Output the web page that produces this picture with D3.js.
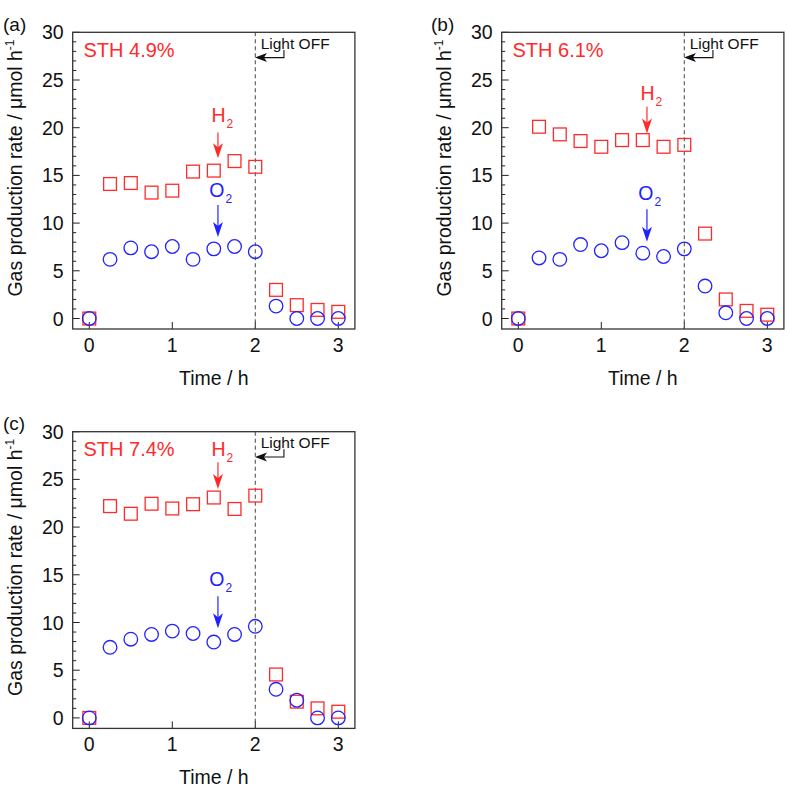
<!DOCTYPE html>
<html>
<head>
<meta charset="utf-8">
<script src="https://cdn.jsdelivr.net/npm/d3@7"></script>
<style>
  body { margin: 0; background: #fff; }
  text { font-family: Arial, "Liberation Sans", sans-serif; }
</style>
</head>
<body>
<script>
// sampling times (h)
var times = [0, 0.25, 0.5, 0.75, 1, 1.25, 1.5, 1.75, 2, 2.25, 2.5, 2.75, 3];
var xTicks = [0, 1, 2, 3];
var yTicks = [0, 5, 10, 15, 20, 25, 30];

// gas production rates, umol/h
var h2A = [0, 14.1, 14.2, 13.2, 13.4, 15.4, 15.5, 16.5, 15.9, 3.0, 1.4, 0.9, 0.7];
var o2A = [0, 6.2, 7.4, 7.0, 7.55, 6.2, 7.3, 7.55, 7.0, 1.3, 0, 0, 0];
var h2B = [0, 20.1, 19.3, 18.6, 18.0, 18.7, 18.7, 18.0, 18.2, 8.9, 2.0, 0.8, 0.4];
var o2B = [0, 6.35, 6.2, 7.75, 7.1, 7.95, 6.85, 6.5, 7.3, 3.4, 0.6, 0, 0];
var h2C = [0, 22.2, 21.4, 22.45, 21.95, 22.4, 23.1, 21.9, 23.3, 4.55, 1.7, 1.0, 0.65];
var o2C = [0, 7.4, 8.25, 8.75, 9.1, 8.85, 7.95, 8.75, 9.6, 3.0, 1.85, 0, 0];

var panelNames = ['(a)', '(b)', '(c)'];
var sthLabels = ['STH 4.9%', 'STH 6.1%', 'STH 7.4%'];

var RED = '#ff2a2a', BLUE = '#2222ff';

// layout of each panel (offsets) + where the H2/O2 pointers sit (data units)
var panels = [
  {name: panelNames[0], sth: sthLabels[0], h2: h2A, o2: o2A, dx: 0, dy: 0,
   hLab: 20.6, hArrow: [19.5, 16.8], oLab: 12.75, oArrow: [11.9, 8.55]},
  {name: panelNames[1], sth: sthLabels[1], h2: h2B, o2: o2B, dx: 429, dy: 0,
   hLab: 22.9, hArrow: [22.2, 19.4], oLab: 12.4, oArrow: [11.45, 8.05]},
  {name: panelNames[2], sth: sthLabels[2], h2: h2C, o2: o2C, dx: 0, dy: 399.4,
   hLab: 27.4, hArrow: [26.8, 24.0], oLab: 13.8, oArrow: [12.75, 9.4]}
];

var svg = d3.select('body').append('svg')
  .attr('width', 787)
  .attr('height', 787);

var x = d3.scaleLinear().domain([-0.2, 3.2]).range([72.7, 354.9]);
var y = d3.scaleLinear().domain([-1.1, 30]).range([329, 32.3]);

function drawPanel(p) {
  var g = svg.append('g').attr('transform', 'translate(' + p.dx + ',' + p.dy + ')');
  var x0 = x.range()[0], x1 = x.range()[1];
  var yb = y.range()[0], yt = y.range()[1];

  // y ticks, inside the frame
  var minor = d3.range(0, 31, 1);
  g.selectAll('.ytick').data(minor).enter().append('line')
    .attr('x1', x0).attr('x2', function(d) { return x0 + (d % 5 === 0 ? 7 : 3.5); })
    .attr('y1', function(d) { return y(d); }).attr('y2', function(d) { return y(d); })
    .attr('stroke', '#222').attr('stroke-width', 1);

  g.selectAll('.xtick').data(xTicks).enter().append('line')
    .attr('x1', function(d) { return x(d); }).attr('x2', function(d) { return x(d); })
    .attr('y1', yb).attr('y2', yb - 7)
    .attr('stroke', '#222').attr('stroke-width', 1);

  g.selectAll('.ylab').data(yTicks).enter().append('text')
    .attr('x', x0 - 9).attr('y', function(d) { return y(d); })
    .attr('dy', '0.36em')
    .attr('text-anchor', 'end')
    .attr('font-size', 19.5).attr('fill', '#111')
    .text(function(d) { return d; });

  g.selectAll('.xlab').data(xTicks).enter().append('text')
    .attr('x', function(d) { return x(d); }).attr('y', yb + 23)
    .attr('text-anchor', 'middle')
    .attr('font-size', 19.5).attr('fill', '#111')
    .text(function(d) { return d; });

  // light-off line
  g.append('line')
    .attr('x1', x(2)).attr('x2', x(2)).attr('y1', yt).attr('y2', yb)
    .attr('stroke', '#555').attr('stroke-width', 1.1)
    .attr('stroke-dasharray', '4,3');

  // frame
  g.append('rect')
    .attr('x', x0).attr('y', yt).attr('width', x1 - x0).attr('height', yb - yt)
    .attr('fill', 'none').attr('stroke', '#333').attr('stroke-width', 1.3);

  // H2 squares
  g.selectAll('.sq').data(p.h2).enter().append('rect')
    .attr('x', function(d, i) { return x(times[i]) - 6.4; })
    .attr('y', function(d) { return y(d) - 6.4; })
    .attr('width', 12.8).attr('height', 12.8)
    .attr('fill', 'none').attr('stroke', RED).attr('stroke-width', 1.3);

  // O2 circles
  g.selectAll('.ci').data(p.o2).enter().append('circle')
    .attr('cx', function(d, i) { return x(times[i]); })
    .attr('cy', function(d) { return y(d); })
    .attr('r', 6.8)
    .attr('fill', 'none').attr('stroke', BLUE).attr('stroke-width', 1.3);

  // STH label
  g.append('text')
    .attr('x', x(-0.07)).attr('y', y(27.4))
    .attr('font-size', 20).attr('fill', RED)
    .text(p.sth);

  // Light OFF label with bent arrow
  g.append('text')
    .attr('x', x(2.065)).attr('y', y(28.3))
    .attr('font-size', 15.5).attr('fill', '#111')
    .text('Light OFF');
  var ax = x(2.345), ayTop = y(28.15), ay = y(27.35), tip = x(1.996);
  g.append('path')
    .attr('d', 'M' + ax + ',' + ayTop + 'V' + ay + 'H' + (tip + 7))
    .attr('fill', 'none').attr('stroke', '#111').attr('stroke-width', 1.1);
  g.append('path')
    .attr('d', 'M' + tip + ',' + ay + 'L' + (tip + 12) + ',' + (ay - 4.5) +
      'L' + (tip + 9) + ',' + ay + 'L' + (tip + 12) + ',' + (ay + 4.5) + 'Z')
    .attr('fill', '#111');

  // gas pointers
  var px = x(1.55);
  function pointer(lab, sub, labY, arr, color, shift) {
    var t = g.append('text')
      .attr('x', px - shift).attr('y', y(labY))
      .attr('font-size', 19.5).attr('fill', color);
    t.append('tspan').text(lab);
    t.append('tspan').attr('font-size', 12).attr('dx', 1).attr('dy', 6).text(sub);
    var a = y(arr[0]), b = y(arr[1]);
    g.append('line')
      .attr('x1', px).attr('x2', px).attr('y1', a).attr('y2', b - 8)
      .attr('stroke', color).attr('stroke-width', 1.2);
    g.append('path')
      .attr('d', 'M' + px + ',' + b + 'L' + (px - 5) + ',' + (b - 15) +
        'L' + px + ',' + (b - 11) + 'L' + (px + 5) + ',' + (b - 15) + 'Z')
      .attr('fill', color);
  }
  pointer('H', '2', p.hLab, p.hArrow, RED, 6.5);
  pointer('O', '2', p.oLab, p.oArrow, BLUE, 8.7);

  // axis titles
  g.append('text')
    .attr('x', (x0 + x1) / 2).attr('y', yb + 56)
    .attr('text-anchor', 'middle')
    .attr('font-size', 19.5).attr('fill', '#111')
    .text('Time / h');

  var yt2 = g.append('text')
    .attr('transform', 'translate(22,168) rotate(-90)')
    .attr('text-anchor', 'middle')
    .attr('font-size', 19.5).attr('fill', '#111');
  yt2.append('tspan').text('Gas production rate / \u03bcmol h');
  yt2.append('tspan').attr('font-size', 12).attr('dy', -8).text('-1');

  // panel letter
  g.append('text')
    .attr('x', p.name === '(b)' ? 431 - p.dx : 3).attr('y', 31)
    .attr('font-size', 19).attr('fill', '#111')
    .text(p.name);
}

panels.forEach(drawPanel);
</script>
</body>
</html>
